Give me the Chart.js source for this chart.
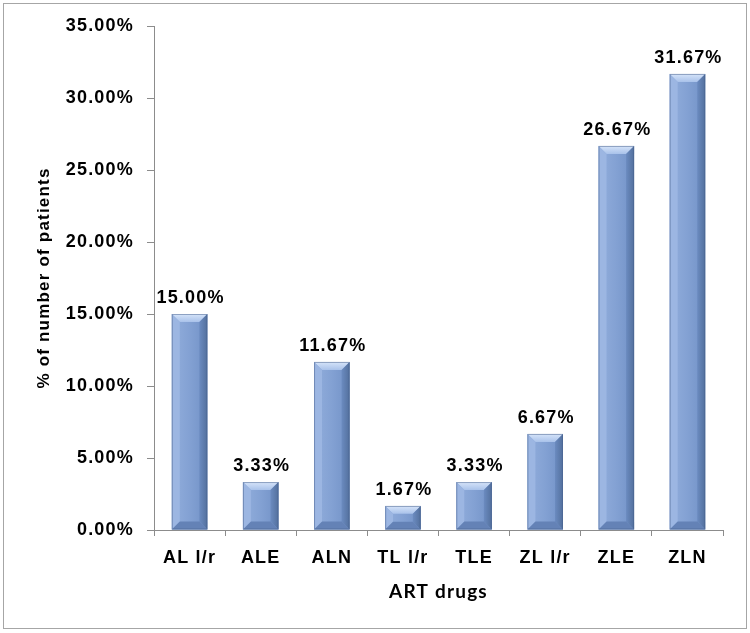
<!DOCTYPE html>
<html>
<head>
<meta charset="utf-8">
<script src="https://cdn.jsdelivr.net/npm/chart.js@4.4.1/dist/chart.umd.min.js"></script>
<style>
  html, body { margin: 0; padding: 0; background: #ffffff; }
  #wrap { position: relative; width: 750px; height: 633px; }
</style>
</head>
<body>
<div id="wrap"><canvas id="c" width="750" height="633"></canvas></div>
<script>
const categories = ["AL l/r", "ALE", "ALN", "TL l/r", "TLE", "ZL l/r", "ZLE", "ZLN"];
const percentValues = [15.00, 3.33, 11.67, 1.67, 3.33, 6.67, 26.67, 31.67];
const yTickValues = [0, 5, 10, 15, 20, 25, 30, 35];

const FONT = "'Liberation Sans', Arial, sans-serif";
const SPACING = '1.2px';

const spacingPlugin = {
  id: 'spacing',
  beforeLayout(chart) { chart.ctx.letterSpacing = SPACING; },
  beforeDraw(chart) {
    chart.ctx.letterSpacing = SPACING;
    const ctx = chart.ctx;
    ctx.save();
    ctx.fillStyle = '#ffffff';
    ctx.fillRect(0, 0, chart.width, chart.height);
    ctx.strokeStyle = '#a6a6a6';
    ctx.lineWidth = 1;
    ctx.strokeRect(3.5, 3.5, chart.width - 7, chart.height - 8);
    ctx.restore();
  }
};

const bevelPlugin = {
  id: 'bevel',
  afterDatasetsDraw(chart) {
    const ctx = chart.ctx;
    const meta = chart.getDatasetMeta(0);
    meta.data.forEach((bar) => {
      const w = bar.width;
      const L = bar.x - w / 2, R = bar.x + w / 2, T = bar.y, B = bar.base;
      const b = Math.min(8, (B - T) / 3);
      ctx.save();
      let g = ctx.createLinearGradient(L, 0, R, 0);
      g.addColorStop(0, '#92aedc');
      g.addColorStop(0.5, '#83a1d3');
      g.addColorStop(1, '#7191c6');
      ctx.fillStyle = g;
      ctx.fillRect(L, T, w, B - T);
      g = ctx.createLinearGradient(0, T, 0, T + b);
      g.addColorStop(0, '#d6e4f9');
      g.addColorStop(1, '#a9c2ea');
      ctx.fillStyle = g;
      ctx.beginPath();
      ctx.moveTo(L, T); ctx.lineTo(R, T); ctx.lineTo(R - b, T + b); ctx.lineTo(L + b, T + b); ctx.closePath();
      ctx.fill();
      ctx.fillStyle = '#9cb6e2';
      ctx.beginPath();
      ctx.moveTo(L, T); ctx.lineTo(L + b, T + b); ctx.lineTo(L + b, B - b); ctx.lineTo(L, B); ctx.closePath();
      ctx.fill();
      g = ctx.createLinearGradient(R - b, 0, R, 0);
      g.addColorStop(0, '#6b8bc0');
      g.addColorStop(1, '#53709d');
      ctx.fillStyle = g;
      ctx.beginPath();
      ctx.moveTo(R, T); ctx.lineTo(R - b, T + b); ctx.lineTo(R - b, B - b); ctx.lineTo(R, B); ctx.closePath();
      ctx.fill();
      ctx.fillStyle = '#6482b6';
      ctx.beginPath();
      ctx.moveTo(L, B); ctx.lineTo(L + b, B - b); ctx.lineTo(R - b, B - b); ctx.lineTo(R, B); ctx.closePath();
      ctx.fill();
      ctx.strokeStyle = 'rgba(70,95,140,0.5)';
      ctx.lineWidth = 1;
      ctx.strokeRect(L + 0.5, T + 0.5, w - 1, B - T - 1);
      ctx.restore();
    });
  }
};

const labelPlugin = {
  id: 'valueLabels',
  afterDatasetsDraw(chart) {
    const ctx = chart.ctx;
    const meta = chart.getDatasetMeta(0);
    ctx.save();
    ctx.letterSpacing = SPACING;
    ctx.font = "bold 18px " + FONT;
    ctx.fillStyle = '#000000';
    ctx.textAlign = 'center';
    ctx.textBaseline = 'alphabetic';
    meta.data.forEach((bar, i) => {
      ctx.fillText(percentValues[i].toFixed(2) + '%', bar.x + 1, bar.y - 11);
    });
    ctx.restore();
  }
};

new Chart(document.getElementById('c'), {
  type: 'bar',
  data: {
    labels: categories,
    datasets: [{
      data: percentValues,
      backgroundColor: 'rgba(0,0,0,0)',
      borderWidth: 0,
      barPercentage: 0.5,
      categoryPercentage: 1.0
    }]
  },
  options: {
    responsive: false,
    animation: false,
    devicePixelRatio: 1,
    layout: { padding: { left: 0, right: 27, top: 26, bottom: 0 } },
    plugins: {
      legend: { display: false },
      tooltip: { enabled: false }
    },
    scales: {
      x: {
        offset: true,
        grid: { display: true, offset: true, drawOnChartArea: false, tickLength: 6, color: '#8c8c8c' },
        border: { display: true, color: '#8c8c8c' },
        ticks: { color: '#000000', font: { family: FONT, size: 18, weight: 'bold' }, padding: 11, maxRotation: 0 },
        title: {
          display: true, text: 'ART drugs', color: '#000000',
          font: { family: "Lato, 'Open Sans', sans-serif", size: 19, weight: 'bold' },
          padding: { top: 0, bottom: 30 }
        },
        afterFit(scale) { scale.height = 103; }
      },
      y: {
        min: 0, max: 35,
        afterBuildTicks(scale) { scale.ticks = yTickValues.map(v => ({ value: v })); },
        grid: { display: true, drawOnChartArea: false, tickLength: 7, color: '#8c8c8c' },
        border: { display: true, color: '#8c8c8c' },
        ticks: {
          color: '#000000', font: { family: FONT, size: 18, weight: 'bold' }, padding: 13,
          callback: (v) => Number(v).toFixed(2) + '%'
        },
        title: {
          display: true, text: '% of number of patients', color: '#000000',
          font: { family: FONT, size: 17, weight: 'bold' },
          padding: { top: 34, bottom: 0 }
        },
        afterFit(scale) { scale.width = 154; }
      }
    }
  },
  plugins: [spacingPlugin, bevelPlugin, labelPlugin]
});
</script>
</body>
</html>
